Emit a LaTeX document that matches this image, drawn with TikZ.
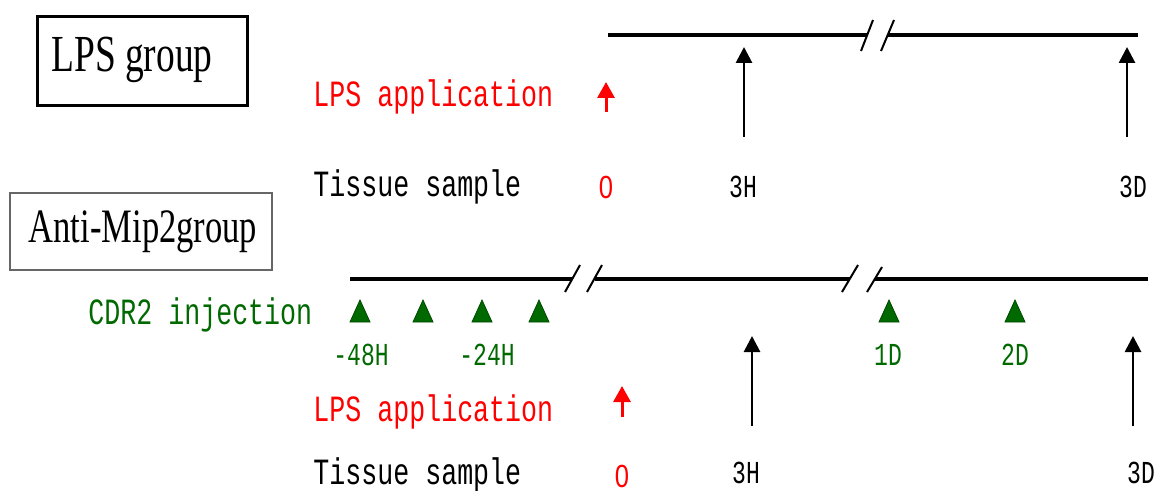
\documentclass[tikz,border=0pt]{standalone}
\usepackage{fontspec}
\usetikzlibrary{arrows.meta}
\newfontfamily\boxfont[FakeStretch=0.72]{Liberation Serif}
\newfontfamily\labfont[FakeStretch=0.72]{Liberation Mono}
\newfontfamily\zerofont[FakeStretch=0.8]{Liberation Sans}
\definecolor{lpsred}{RGB}{255,0,0}
\definecolor{cdrgreen}{RGB}{0,105,0}

\tikzset{
  timeline/.style={line width=2.4pt},
  brk/.style={line width=1pt},
  sample/.style={line width=1.4pt,-{Triangle[width=8pt,length=8pt]}},
  lps/.style={lpsred,line width=1.5pt,-{Triangle[width=8.5pt,length=8pt]}},
  grouplabel/.style={font=\fontsize{26}{30}\boxfont,inner sep=0pt},
  rowlabel/.style={font=\fontsize{18.5}{22}\labfont,inner sep=0pt,anchor=west},
  tick/.style={font=\fontsize{16}{20}\labfont,inner sep=0pt},
  zerotick/.style={font=\fontsize{16}{20}\zerofont,inner sep=0pt,lpsred}
}

\begin{document}
\begin{tikzpicture}[x=0.5pt,y=-0.5pt]
\useasboundingbox (0,0) rectangle (1154,491);

% LPS group
\node[draw,line width=1.5pt,minimum width=105pt,minimum height=44.5pt] (lpsbox) at (142,61.5) {};
\node[grouplabel] (lpsname) at (132,60) {LPS group};

\node[rowlabel,lpsred] (lpsapp1) at (313,97) {LPS application};
\node[rowlabel] (tissue1) at (313,187) {Tissue sample};

\draw[timeline] (608,35) -- (867,35);
\draw[timeline] (888,35) -- (1138,35);
\draw[brk] (861,51) -- (873,20);
\draw[brk] (881,51) -- (894,20);

\draw[lps] (606,112) -- (606,82);
\draw[sample] (744,137) -- (744,47);
\draw[sample] (1127,137) -- (1127,47);

\node[zerotick] (zero1) at (606,187) {0};
\node[tick] (h1) at (743,187) {3H};
\node[tick] (d1) at (1133,187) {3D};

% Anti-Mip2 group
\node[draw=black!60,line width=0.6pt,minimum width=131pt,minimum height=38.5pt] (mipbox) at (141,231.5) {};
\node[grouplabel,font=\fontsize{24}{28}\boxfont] (mipname) at (143,232) {Anti-Mip2group};

\node[rowlabel,cdrgreen] (cdr) at (88,315) {CDR2 injection};
\node[rowlabel,lpsred] (lpsapp2) at (313,412) {LPS application};
\node[rowlabel] (tissue2) at (313,475) {Tissue sample};

\draw[timeline] (350,279) -- (572,279);
\draw[timeline] (595,279) -- (850,279);
\draw[timeline] (875,279) -- (1148,279);
\draw[brk] (565,292) -- (580,265);
\draw[brk] (587,292) -- (602,265);
\draw[brk] (842,292) -- (858,265);
\draw[brk] (867,292) -- (882,267);

\foreach \x in {360,423,482,539,889,1015}
  {\fill[cdrgreen,draw=cdrgreen!70!black] (\x,300) -- (\x+10,322) -- (\x-10,322) -- cycle;}

\node[tick,cdrgreen] (m48) at (361,355) {-48H};
\node[tick,cdrgreen] (m24) at (487,355) {-24H};
\node[tick,cdrgreen] (d1c) at (888,355) {1D};
\node[tick,cdrgreen] (d2c) at (1015,355) {2D};

\draw[lps] (622,417) -- (622,386);
\draw[sample] (752,426) -- (752,336);
\draw[sample] (1133,426) -- (1133,336);

\node[zerotick] (zero2) at (622,476) {0};
\node[tick] (h2) at (746,473) {3H};
\node[tick] (d2) at (1141,473) {3D};
\end{tikzpicture}
\end{document}
